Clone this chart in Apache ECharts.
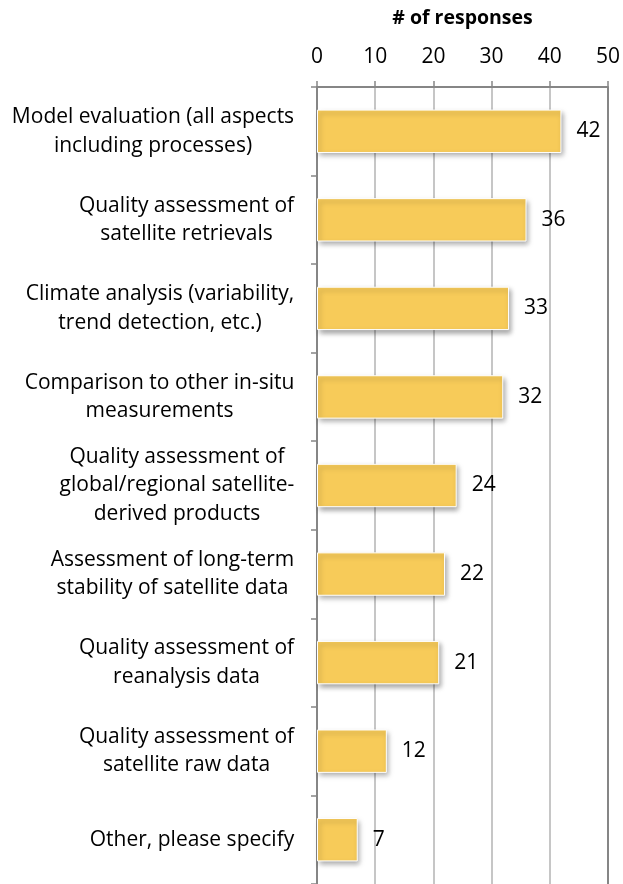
<!DOCTYPE html>
<html><head><meta charset="utf-8">
<script src="https://cdn.jsdelivr.net/npm/echarts@6/dist/echarts.min.js"></script>
<style>html,body{margin:0;padding:0;background:#fff}#c{width:623px;height:884px}</style>
</head><body><div id="c"></div>
<script>
const categories = [
  'Model evaluation (all aspects\nincluding processes)',
  'Quality assessment of\nsatellite retrievals',
  'Climate analysis (variability,\ntrend detection, etc.)',
  'Comparison to other in-situ\nmeasurements',
  'Quality assessment of\nglobal/regional satellite-\nderived products',
  'Assessment of long-term\nstability of satellite data',
  'Quality assessment of\nreanalysis data',
  'Quality assessment of\nsatellite raw data',
  'Other, please specify'
];
const responses = [42, 36, 33, 32, 24, 22, 21, 12, 7];
const axisTitle = '# of responses';

const FONT = 'Open Sans';
const LABEL_SIZE = 21;
// measure each label block width so lines can be centred inside a right-aligned block
const ctx = document.createElement('canvas').getContext('2d');
ctx.font = LABEL_SIZE + 'px "' + FONT + '"';
const rich = {};
categories.forEach((c, i) => {
  const w = Math.max(...c.split('\n').map(s => ctx.measureText(s).width));
  rich['c' + i] = {width: Math.ceil(w) + 1, align: 'center', fontFamily: FONT, fontSize: LABEL_SIZE, color: '#000', lineHeight: 28.5};
});

const chart = echarts.init(document.getElementById('c'), null, {renderer: 'canvas'});
chart.setOption({
  animation: false,
  textStyle: {fontFamily: FONT},
  grid: {left: 317, right: 15, top: 87, bottom: -2, containLabel: false},
  xAxis: {
    type: 'value', position: 'top', min: 0, max: 50, interval: 10,
    name: axisTitle, nameLocation: 'middle', nameGap: 59,
    nameTextStyle: {fontFamily: FONT, fontWeight: 'bold', fontSize: 19.5, color: '#000'},
    axisLine: {show: true, lineStyle: {color: '#868686', width: 2}},
    axisTick: {show: true, length: 6, lineStyle: {color: '#868686', width: 1.5}},
    axisLabel: {fontFamily: FONT, fontSize: 21, color: '#000', margin: 19},
    splitLine: {show: true, lineStyle: {color: ['#868686', '#c6c6c6', '#c6c6c6', '#c6c6c6', '#c6c6c6', '#868686'], width: 2}}
  },
  yAxis: {
    type: 'category', data: categories, inverse: true,
    axisLine: {show: true, lineStyle: {color: '#868686', width: 2}},
    axisTick: {show: true, length: 6, lineStyle: {color: '#868686', width: 1.5}},
    axisLabel: {
      margin: 22, align: 'right',
      formatter: (v, i) => v.split('\n').map(s => '{c' + i + '|' + s + '}').join('\n'),
      rich: rich
    }
  },
  series: [{
    type: 'bar', data: responses, barCategoryGap: '51%',
    itemStyle: {color: '#F7CB59', borderColor: '#ffffff', borderWidth: 1,
      shadowColor: 'rgba(0,0,0,0.35)', shadowBlur: 5, shadowOffsetX: 2, shadowOffsetY: 3},
    label: {show: true, position: 'right', distance: 15, fontFamily: FONT, fontSize: 21, color: '#000'}
  }]
});
</script></body></html>
